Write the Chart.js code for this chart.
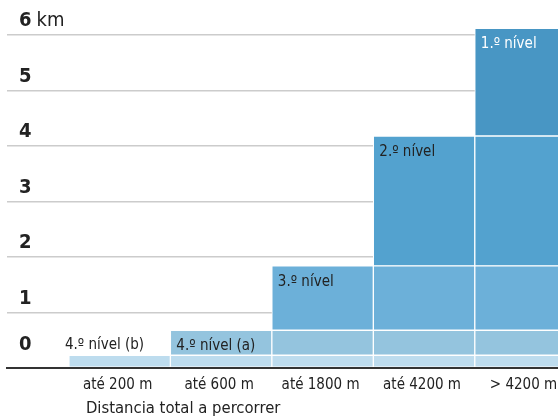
<!DOCTYPE html>
<html><head><meta charset="utf-8">
<script src="https://cdn.jsdelivr.net/npm/chart.js@4/dist/chart.umd.min.js"></script>
<style>html,body{margin:0;padding:0;background:#fff;overflow:hidden}
#wrap{width:558px;height:416px;position:relative}</style>
</head><body><div id="wrap"><canvas id="c" width="558" height="416"></canvas></div>
<script>
const categories = ['até 200 m', 'até 600 m', 'até 1800 m', 'até 4200 m', '> 4200 m'];
const levelNames = ['4.º nível (b)', '4.º nível (a)', '3.º nível', '2.º nível', '1.º nível'];
// stacked layer thicknesses (km) per category
const level4b = [0.23, 0.23, 0.23, 0.23, 0.23];
const level4a = [null, 0.45, 0.45, 0.45, 0.45];
const level3  = [null, null, 1.16, 1.16, 1.16];
const level2  = [null, null, null, 2.34, 2.34];
const level1  = [null, null, null, null, 1.94];
const yTicks = [0, 1, 2, 3, 4, 5, 6];
const yUnit = 'km';
const xTitle = 'Distancia total a percorrer';

const layers = [level4b, level4a, level3, level2, level1];
const colors = ['#bddcee', '#94c4de', '#6cb0d9', '#53a2cf', '#4896c4'];
const textColors = ['#222', '#222', '#222', '#222', '#fff'];
const FONT = "'Liberation Sans Narrow','DejaVu Sans Condensed',sans-serif";

const labelPlugin = {
  id: 'levelLabels',
  afterDatasetsDraw(chart) {
    const ctx = chart.ctx;
    ctx.save();
    ctx.font = '15px ' + FONT;
    ctx.textAlign = 'left';
    ctx.textBaseline = 'alphabetic';
    layers.forEach((arr, k) => {
      const meta = chart.getDatasetMeta(k);
      const el = meta.data[k];
      if (!el) return;
      const left = el.x - el.width / 2;
      ctx.fillStyle = textColors[k];
      if (k === 0) {
        ctx.fillText(levelNames[k], left - 4, el.y - 6);
      } else {
        ctx.fillText(levelNames[k], left + 6, el.y + 20);
      }
    });
    ctx.restore();
  },
  afterDraw(chart) {
    const ctx = chart.ctx;
    const ys = chart.scales.y, xs = chart.scales.x;
    ctx.save();
    ctx.fillStyle = '#222';
    ctx.textBaseline = 'middle';
    ctx.textAlign = 'left';
    ctx.font = 'bold 20px ' + FONT;
    const top = yTicks[yTicks.length - 1];
    const w = ctx.measureText(String(top)).width;
    ctx.font = '20px ' + FONT;
    ctx.fillText(yUnit, ys.right + 12 + w + 5, ys.getPixelForValue(top) - 14);
    ctx.font = '16.5px ' + FONT;
    ctx.textBaseline = 'alphabetic';
    ctx.fillText(xTitle, xs.getPixelForValue(-0.5) + 17, 413);
    ctx.restore();
  }
};

new Chart(document.getElementById('c'), {
  type: 'bar',
  data: {
    datasets: layers.map((arr, k) => ({
      label: levelNames[k],
      data: arr.map((v, i) => ({x: i, y: v})),
      backgroundColor: colors[k],
      borderColor: '#ffffff',
      borderWidth: 1,
      borderSkipped: false,
      categoryPercentage: 1,
      barPercentage: 1,
      clip: false
    }))
  },
  options: {
    responsive: false,
    animation: false,
    layout: {padding: {left: 7, right: 0, top: 35, bottom: 0}},
    plugins: {legend: {display: false}, tooltip: {enabled: false}},
    scales: {
      x: {
        type: 'linear', min: -1.11, max: 4.32, stacked: true, offset: false,
        afterBuildTicks: s => { s.ticks = categories.map((c, i) => ({value: i})); },
        ticks: {
          callback: v => categories[v] ?? '',
          font: {family: FONT, size: 15}, color: '#222', padding: 8, labelOffset: -2,
          autoSkip: false, maxRotation: 0
        },
        grid: {display: false, drawTicks: false, offset: false},
        border: {display: true, color: '#333', width: 2, z: 1},
        afterFit: s => { s.height = 48; s.paddingLeft = 0; s.paddingRight = 0; }
      },
      y: {
        min: 0, max: 6, stacked: true,
        afterBuildTicks: s => { s.ticks = yTicks.map(v => ({value: v})); },
        ticks: {
          mirror: true, padding: 12, labelOffset: -14, autoSkip: false,
          font: ctx => ({family: FONT, size: 20, weight: 'bold',
                         lineHeight: (ctx.tick && ctx.tick.value === 0) ? 0.9 : 1.2}),
          color: '#222',
          callback: v => v === 0 ? ['0', ''] : String(v)
        },
        grid: {color: '#cccccc', lineWidth: 1.5, drawTicks: false},
        border: {display: false},
        afterFit: s => { s.width = 0; s.paddingTop = 0; s.paddingBottom = 0; }
      }
    }
  },
  plugins: [labelPlugin]
});
</script></body></html>
